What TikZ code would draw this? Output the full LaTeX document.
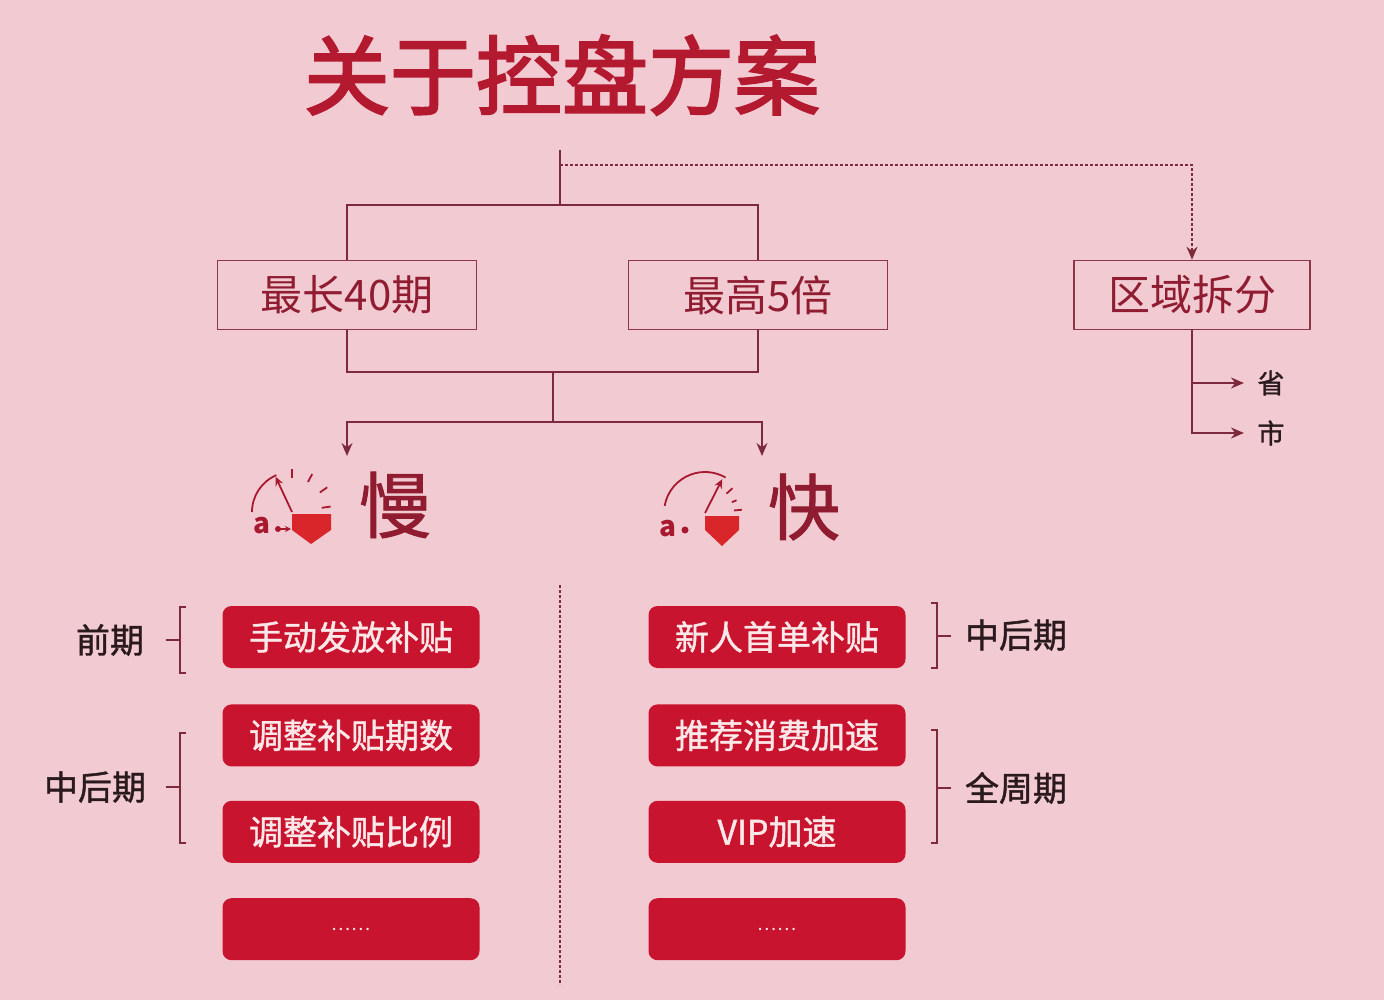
\documentclass[tikz,border=0pt]{standalone}
\usepackage{fontspec}
\setmainfont{Noto Sans CJK SC}
\newfontfamily\heavyfont{Noto Sans CJK SC}[FakeBold=2.5]
\newfontfamily\midfont{Noto Sans CJK SC}[FakeBold=1.2]
\usepackage{xcolor}
\usetikzlibrary{positioning, calc, arrows.meta}
\definecolor{bgpink}{HTML}{F2CAD2}
\definecolor{titlered}{HTML}{B3192F}
\definecolor{boxline}{HTML}{8E3547}
\definecolor{boxtext}{HTML}{8F1C30}
\definecolor{redfill}{HTML}{C8142E}
\definecolor{redtext}{HTML}{FCE8E8}
\definecolor{linecol}{HTML}{7D2B3C}
\definecolor{labeltext}{HTML}{2A1A1E}
\definecolor{shieldred}{HTML}{D9262B}
\definecolor{iconred}{HTML}{A8182E}
\tikzstyle{limitbox} = [rectangle, minimum width=259pt, minimum height=69pt, text centered, draw=boxline, line width=1.6pt, text=boxtext, font=\fontsize{42}{42}\selectfont]
\tikzstyle{redbox} = [rectangle, rounded corners=9pt, minimum width=257pt, minimum height=62pt, text centered, fill=redfill, text=redtext, font=\fontsize{34}{34}\midfont]
\tikzstyle{phase} = [text=labeltext, font=\fontsize{34}{34}\midfont]
\tikzstyle{speed} = [text=boxtext, font=\fontsize{72}{72}\midfont]
\tikzstyle{link} = [draw=linecol, line width=1.6pt]
\tikzstyle{arrow} = [link, -{Stealth[length=13pt, width=11pt]}]
\tikzstyle{dotline} = [link, dash pattern=on 3pt off 2pt]
\tikzstyle{bracket} = [draw=linecol, line width=1.4pt]
\tikzstyle{iconline} = [draw=iconred, line width=1.8pt]
\begin{document}
\begin{tikzpicture}[x=1pt, y=-1pt]
		\useasboundingbox (0,0) rectangle (1384,1000);
		\fill[bgpink] (0,0) rectangle (1384,1000);
		\node (title) [text=titlered, font=\fontsize{86}{86}\heavyfont] at (562,75) {关于控盘方案};
		% upper boxes
		\node (len) [limitbox] at (347,295) {最长40期};
		\node (mul) [limitbox] at (758,295) {最高5倍};
		\node (area) [limitbox, minimum width=236pt] at (1192,295) {区域拆分};
		\node (prov) [text=labeltext, font=\fontsize{27}{27}\midfont] at (1271,383) {省};
		\node (city) [text=labeltext, font=\fontsize{27}{27}\midfont] at (1271,433) {市};
		\coordinate (top) at (560,150);
		\coordinate (split) at (560,205);
		\coordinate (dot) at (560,165);
		\coordinate (join) at (553,372);
		\coordinate (fork) at (553,422);
		\coordinate (slowtip) at (347,456);
		\coordinate (fasttip) at (762,456);
		\draw [link](top) -- (split);
		\draw [link](len.north) |- (split) -| (mul.north);
		\draw [dotline,-{Stealth[length=13pt, width=11pt]}](dot) -| (area.north);
		\draw [link](len.south) |- (join) -| (mul.south);
		\draw [link](join) -- (fork);
		\draw [arrow](fork) -| (slowtip);
		\draw [arrow](fork) -| (fasttip);
		\draw [arrow](area.south) |- ([xshift=-10pt]city.west);
		\draw [arrow](area.south |- prov) -- ([xshift=-10pt]prov.west);
		% speed icons
		\coordinate (slowc) at (292,512);
		\draw [iconline]($(slowc)+(180:40pt)$) arc[start angle=180, end angle=113, radius=40pt];
		\draw [iconline,-{Stealth[length=9pt, width=8pt]}](slowc) -- ($(slowc)+(115:39pt)$);
		\draw [iconline]($(slowc)+(90:34pt)$) -- ($(slowc)+(90:43pt)$);
		\draw [iconline]($(slowc)+(62:34pt)$) -- ($(slowc)+(62:43pt)$);
		\draw [iconline]($(slowc)+(35:34pt)$) -- ($(slowc)+(35:43pt)$);
		\draw [iconline]($(slowc)+(8:30pt)$) -- ($(slowc)+(8:39pt)$);
		\node [text=iconred, font=\fontsize{28}{28}\bfseries] at (262,526) {a};
		\fill [iconred](278,529) circle (3pt);
		\draw [iconline,line width=1.2pt,-{Stealth[length=6pt, width=6pt]}](278,529) -- (291,529);
		\fill [shieldred](292,514) -- (331,514) -- (331,530) -- (311,544) -- (292,530) -- cycle;
		\node (slow) [speed] at (395,505) {慢};
		\coordinate (fastc) at (705,513);
		\draw [iconline]($(fastc)+(170:41pt)$) arc[start angle=170, end angle=60, radius=41pt];
		\draw [iconline,-{Stealth[length=9pt, width=8pt]}](fastc) -- ($(fastc)+(63:38pt)$);
		\draw [iconline]($(fastc)+(42:29pt)$) -- ($(fastc)+(42:37pt)$);
		\draw [iconline]($(fastc)+(22:29pt)$) -- ($(fastc)+(22:34pt)$);
		\draw [iconline]($(fastc)+(5:29pt)$) -- ($(fastc)+(5:37pt)$);
		\node [text=iconred, font=\fontsize{28}{28}\bfseries] at (668,529) {a};
		\fill [iconred](685,530) circle (3.5pt);
		\fill [shieldred](705,516) -- (739,516) -- (739,530) -- (722,546) -- (705,530) -- cycle;
		\node (fast) [speed] at (804,507) {快};
		% divider
		\coordinate (divtop) at (560,585);
		\coordinate (divbot) at (560,985);
		\draw [dotline,line width=1.3pt](divtop) -- (divbot);
		% slow measures
		\node (slow1) [redbox] at (351,637) {手动发放补贴};
		\node (slow2) [redbox, below=36pt of slow1] {调整补贴期数};
		\node (slow3) [redbox, below=34pt of slow2] {调整补贴比例};
		\node (slow4) [redbox, below=35pt of slow3, font=\fontsize{18}{18}\selectfont] {……};
		% fast measures
		\node (fast1) [redbox] at (777,637) {新人首单补贴};
		\node (fast2) [redbox, below=36pt of fast1] {推荐消费加速};
		\node (fast3) [redbox, below=34pt of fast2] {VIP加速};
		\node (fast4) [redbox, below=35pt of fast3, font=\fontsize{18}{18}\selectfont] {……};
		% phases
		\node (early) [phase] at (110,640) {前期};
		\node (late) [phase] at (95,787) {中后期};
		\node (late2) [phase] at (1016,635) {中后期};
		\node (whole) [phase] at (1016,788) {全周期};
		\draw [bracket](186,607) -- (180,607) -- (180,673) -- (186,673);
		\draw [bracket](180,640) -- (166,640);
		\draw [bracket](186,733) -- (180,733) -- (180,843) -- (186,843);
		\draw [bracket](180,787) -- (166,787);
		\draw [bracket](931,603) -- (937,603) -- (937,668) -- (931,668);
		\draw [bracket](937,636) -- (951,636);
		\draw [bracket](931,730) -- (937,730) -- (937,843) -- (931,843);
		\draw [bracket](937,788) -- (951,788);
	\end{tikzpicture}
\end{document}
